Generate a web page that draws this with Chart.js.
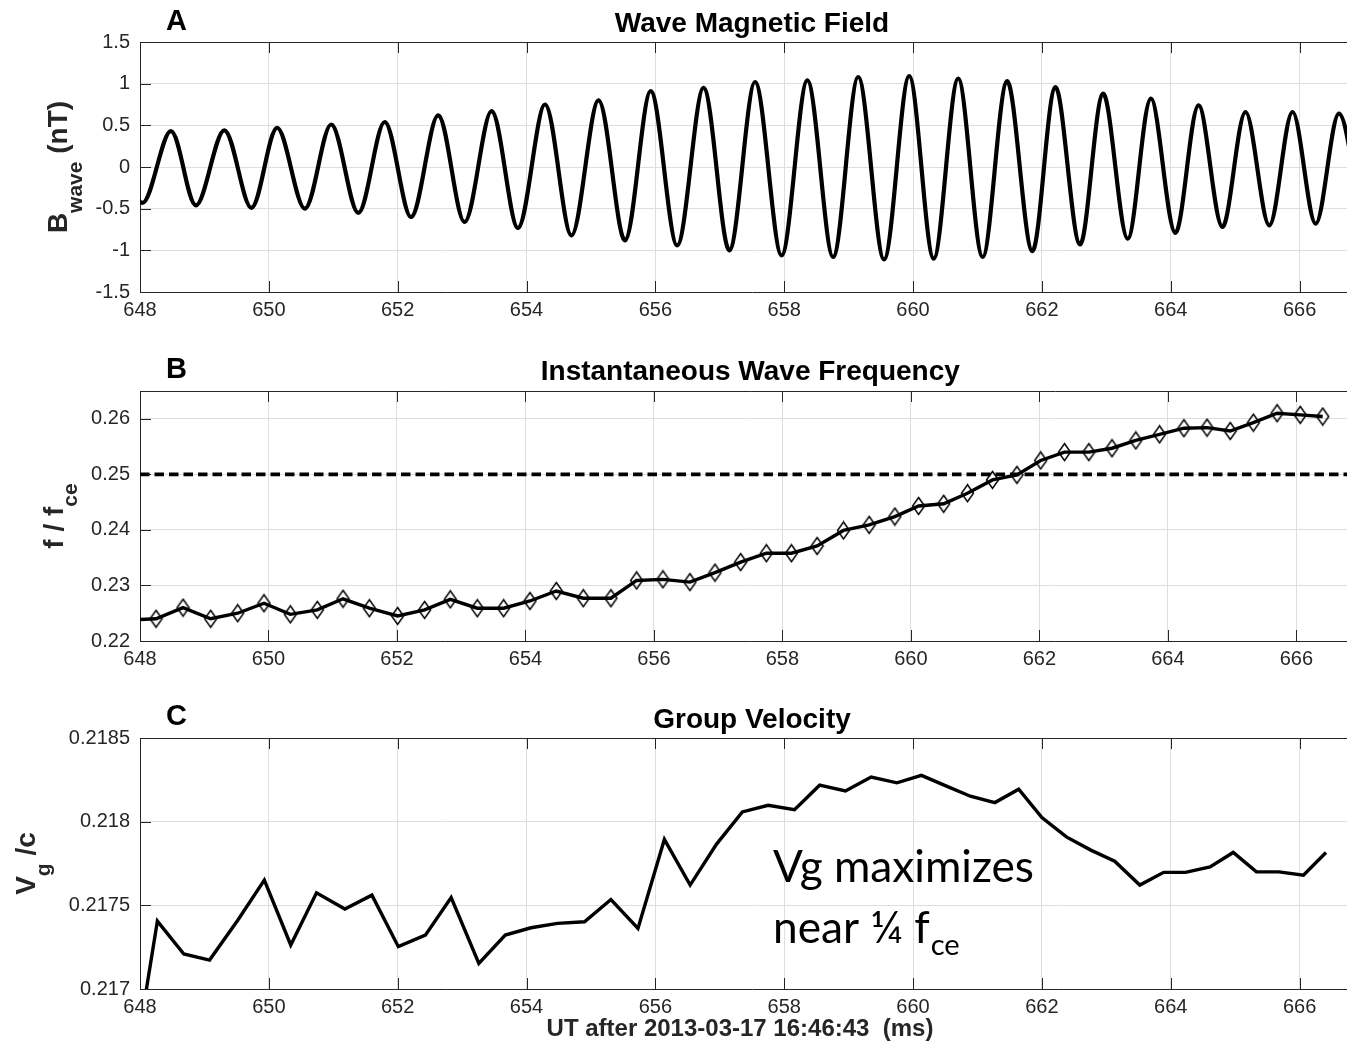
<!DOCTYPE html>
<html><head><meta charset="utf-8">
<script src="https://cdn.jsdelivr.net/npm/chart.js@4.4.1/dist/chart.umd.min.js"></script>
<style>
html,body{margin:0;padding:0;background:#fff;overflow:hidden;width:1347px;height:1048px;position:relative;}
.panel{position:absolute;left:0;width:1372px;}
</style></head><body>
<div class="panel" style="top:0;height:345px"><canvas id="ca"></canvas></div>
<div class="panel" style="top:345px;height:349px"><canvas id="cb"></canvas></div>
<div class="panel" style="top:694px;height:354px"><canvas id="cc"></canvas></div>
<script>
// ---------- DATA ----------
const xTicks = [648, 650, 652, 654, 656, 658, 660, 662, 664, 666];
const xTickLabels = ['648','650','652','654','656','658','660','662','664','666'];

// Panel A: wave magnetic field, read peaks and troughs (ms, nT)
const waveT = [647.62, 648.04, 648.48, 648.87, 649.31, 649.73, 650.13, 650.56, 650.97, 651.39, 651.80,
  652.21, 652.63, 653.04, 653.46, 653.87, 654.29, 654.70, 655.12, 655.53, 655.93, 656.34, 656.75,
  657.15, 657.55, 657.96, 658.36, 658.76, 659.15, 659.55, 659.94, 660.32, 660.70, 661.08, 661.46,
  661.85, 662.21, 662.59, 662.95, 663.33, 663.69, 664.07, 664.43, 664.80, 665.16, 665.53, 665.89,
  666.25, 666.61, 666.97];
const waveB = [0.42, -0.43, 0.43, -0.46, 0.44, -0.49, 0.47, -0.50, 0.51, -0.55, 0.54,
  -0.60, 0.62, -0.66, 0.67, -0.73, 0.75, -0.82, 0.80, -0.88, 0.91, -0.94, 0.95,
  -1.00, 1.02, -1.06, 1.04, -1.08, 1.08, -1.11, 1.09, -1.10, 1.06, -1.08, 1.03,
  -1.01, 0.96, -0.93, 0.88, -0.86, 0.82, -0.79, 0.74, -0.72, 0.66, -0.70, 0.66,
  -0.68, 0.64, -0.66];
const aYTicks = [-1.5, -1, -0.5, 0, 0.5, 1, 1.5];
const aYLabels = ['-1.5', '-1', '-0.5', '0', '0.5', '1', '1.5'];

// Panel B: instantaneous wave frequency (f / fce)
const freqT = [647.84, 648.25, 648.67, 649.10, 649.52, 649.93, 650.34, 650.76, 651.16, 651.57,
  652.01, 652.43, 652.83, 653.25, 653.66, 654.07, 654.48, 654.90, 655.33, 655.73,
  656.14, 656.56, 656.95, 657.35, 657.75, 658.14, 658.54, 658.95, 659.35, 659.75,
  660.12, 660.51, 660.88, 661.27, 661.65, 662.02, 662.39, 662.77, 663.13, 663.50,
  663.87, 664.25, 664.61, 664.97, 665.33, 665.70, 666.06, 666.41];
const freqV = [0.2238, 0.2240, 0.2260, 0.2240, 0.2250, 0.2268, 0.2248, 0.2256, 0.2276, 0.2259,
  0.2245, 0.2256, 0.2275, 0.2259, 0.2259, 0.2272, 0.2290, 0.2277, 0.2277, 0.2309,
  0.2311, 0.2306, 0.2323, 0.2342, 0.2358, 0.2358, 0.2371, 0.2399, 0.2409, 0.2424,
  0.2443, 0.2447, 0.2466, 0.2490, 0.2499, 0.2525, 0.2540, 0.2540, 0.2547, 0.2561,
  0.2572, 0.2583, 0.2584, 0.2578, 0.2593, 0.2610, 0.2607, 0.2604];
const quarterT = [648, 667];
const quarterV = [0.25, 0.25];
const bYTicks = [0.22, 0.23, 0.24, 0.25, 0.26];
const bYLabels = ['0.22', '0.23', '0.24', '0.25', '0.26'];

// Panel C: group velocity (Vg / c)
const velT = [647.84, 648.27, 648.68, 649.08, 649.52, 649.93, 650.34, 650.74, 651.18, 651.60,
  652.01, 652.43, 652.83, 653.26, 653.67, 654.07, 654.48, 654.90, 655.31, 655.73,
  656.14, 656.54, 656.95, 657.35, 657.75, 658.16, 658.55, 658.95, 659.35, 659.75,
  660.13, 660.51, 660.89, 661.27, 661.64, 662.00, 662.38, 662.76, 663.13, 663.52,
  663.89, 664.23, 664.61, 664.97, 665.33, 665.68, 666.06, 666.41];
const velV = [0.21638, 0.217406, 0.217209, 0.217173, 0.217412, 0.217651, 0.217263, 0.217575, 0.217478, 0.217561,
  0.217253, 0.217322, 0.217547, 0.217153, 0.217322, 0.217366, 0.217392, 0.217402, 0.217535, 0.217362,
  0.217894, 0.217621, 0.217866, 0.218058, 0.218098, 0.218072, 0.218218, 0.218184, 0.218267, 0.218232,
  0.218277, 0.218214, 0.218152, 0.218114, 0.218194, 0.218025, 0.217909, 0.217830, 0.217764, 0.217621,
  0.217697, 0.217697, 0.217730, 0.217816, 0.217700, 0.217700, 0.217680, 0.217816];
const cYTicks = [0.217, 0.2175, 0.218, 0.2185];
const cYLabels = ['0.217', '0.2175', '0.218', '0.2185'];

// ---------- STYLE / DRAWING ----------
const FONT = "'Liberation Sans', Arial, Helvetica, sans-serif";
const AX = '#262626';
const GRID = '#dedede';
Chart.defaults.font.family = FONT;
Chart.defaults.color = AX;

function pts(xs, ys) { return xs.map((x, i) => ({ x: x, y: ys[i] })); }

function diamondImg() {
  const c = document.createElement('canvas');
  c.width = 15; c.height = 20;
  const g = c.getContext('2d');
  g.strokeStyle = '#000'; g.lineWidth = 1.5;
  g.beginPath(); g.moveTo(7.5, 1.5); g.lineTo(13.5, 10); g.lineTo(7.5, 18.5); g.lineTo(1.5, 10); g.closePath();
  g.stroke();
  return c;
}

function rotLabel(ctx, parts, xBase, yCenter) {
  ctx.save();
  let total = 0;
  parts.forEach(p => { ctx.font = 'bold ' + p.size + 'px ' + FONT; p.w = ctx.measureText(p.text).width; total += p.w; });
  ctx.translate(xBase, yCenter);
  ctx.rotate(-Math.PI / 2);
  ctx.fillStyle = AX;
  ctx.textBaseline = 'alphabetic';
  ctx.textAlign = 'left';
  let u = -total / 2;
  parts.forEach(p => {
    ctx.font = 'bold ' + p.size + 'px ' + FONT;
    ctx.fillText(p.text, u, p.sub ? p.sub : 0);
    u += p.w;
  });
  ctx.restore();
}

function decoPlugin(cfg) {
  return {
    id: 'deco',
    beforeDatasetsDraw(chart) {
      const ctx = chart.ctx, a = chart.chartArea;
      const xs = chart.scales.x, ys = chart.scales.y;
      ctx.save();
      ctx.strokeStyle = AX; ctx.lineWidth = 1;
      ctx.beginPath();
      ctx.moveTo(a.left, a.top + 0.5); ctx.lineTo(a.right, a.top + 0.5);
      xTicks.forEach(v => {
        const x = Math.round(xs.getPixelForValue(v)) + 0.5;
        ctx.moveTo(x, a.bottom); ctx.lineTo(x, a.bottom - 11);
        ctx.moveTo(x, a.top); ctx.lineTo(x, a.top + 11);
      });
      cfg.yTicks.forEach(v => {
        const y = Math.round(ys.getPixelForValue(v)) + 0.5;
        ctx.moveTo(a.left, y); ctx.lineTo(a.left + 11, y);
      });
      ctx.stroke();
      ctx.restore();
    },
    afterDraw(chart) {
      const ctx = chart.ctx, a = chart.chartArea;
      ctx.save();
      ctx.fillStyle = '#000';
      ctx.textBaseline = 'alphabetic';
      ctx.font = 'bold 29px ' + FONT;
      ctx.textAlign = 'left';
      ctx.fillText(cfg.letter, 166, cfg.letterY);
      ctx.font = 'bold 28px ' + FONT;
      ctx.textAlign = 'center';
      ctx.fillText(cfg.title, (a.left + a.right) / 2, cfg.titleY);
      ctx.restore();
      rotLabel(ctx, cfg.ylabel, cfg.ylabelX, (a.top + a.bottom) / 2);
      if (cfg.extra) cfg.extra(chart);
    }
  };
}

function makeChart(id, cfg) {
  return new Chart(document.getElementById(id), {
    type: 'line',
    data: { datasets: cfg.datasets },
    options: {
      responsive: true, maintainAspectRatio: false, animation: false, devicePixelRatio: 1,
      layout: { padding: { left: 0, top: cfg.padTop, right: 8, bottom: 0 } },
      plugins: { legend: { display: false }, tooltip: { enabled: false }, title: { display: false } },
      scales: {
        x: {
          type: 'linear', min: 648, max: 667,
          afterBuildTicks: s => { s.ticks = xTicks.map(v => ({ value: v })); },
          afterFit: s => { s.height = cfg.xAxisH; },
          grid: { color: GRID, drawTicks: false, lineWidth: 1 },
          border: { display: true, color: AX, width: 1 },
          ticks: { padding: 6, font: { size: 20 }, color: AX, maxRotation: 0, autoSkip: false,
                   callback: (v, i) => xTickLabels[i] }
        },
        y: {
          type: 'linear', min: cfg.yMin, max: cfg.yMax,
          afterBuildTicks: s => { s.ticks = cfg.yTicks.map(v => ({ value: v })); },
          afterFit: s => { s.width = 140; },
          grid: { color: GRID, drawTicks: false, lineWidth: 1 },
          border: { display: true, color: AX, width: 1 },
          ticks: { padding: 10, font: { size: 20 }, color: AX, autoSkip: false,
                   callback: (v, i) => cfg.yLabels[i] }
        }
      }
    },
    plugins: [decoPlugin(cfg)]
  });
}

// Panel A
makeChart('ca', {
  padTop: 42, xAxisH: 53, yMin: -1.5, yMax: 1.5, yTicks: aYTicks, yLabels: aYLabels,
  letter: 'A', letterY: 30, title: 'Wave Magnetic Field', titleY: 32, ylabelX: 67,
  ylabel: [{ text: 'B', size: 28 }, { text: 'wave', size: 21, sub: 15 }, { text: ' (nT)', size: 28 }],
  datasets: [{
    data: pts(waveT, waveB), borderColor: '#000', borderWidth: 4.2, pointRadius: 0,
    tension: 0.33, clip: 0, fill: false
  }]
});

// Panel B
const dia = diamondImg();
makeChart('cb', {
  padTop: 46, xAxisH: 53, yMin: 0.22, yMax: 0.265, yTicks: bYTicks, yLabels: bYLabels,
  letter: 'B', letterY: 33, title: 'Instantaneous Wave Frequency', titleY: 35, ylabelX: 63,
  ylabel: [{ text: 'f / f', size: 28 }, { text: 'ce', size: 21, sub: 14 }],
  datasets: [
    { data: pts(quarterT, quarterV), borderColor: '#000', borderWidth: 3.6, borderDash: [9.5, 5],
      pointRadius: 0, tension: 0, clip: 0, fill: false },
    { data: pts(freqT, freqV), borderColor: '#000', borderWidth: 3.4, tension: 0, clip: 0, fill: false,
      pointStyle: dia, pointRadius: 8 }
  ]
});

// Panel C
makeChart('cc', {
  padTop: 44, xAxisH: 59, yMin: 0.217, yMax: 0.2185, yTicks: cYTicks, yLabels: cYLabels,
  letter: 'C', letterY: 31, title: 'Group Velocity', titleY: 34, ylabelX: 35,
  ylabel: [{ text: 'V', size: 28 }, { text: 'g', size: 21, sub: 15 }, { text: ' /c', size: 28 }],
  datasets: [{
    data: pts(velT, velV), borderColor: '#000', borderWidth: 3.4, pointRadius: 0,
    tension: 0, clip: 0, fill: false
  }],
  extra(chart) {
    const ctx = chart.ctx;
    ctx.save();
    ctx.fillStyle = AX;
    ctx.font = 'bold 24px ' + FONT;
    ctx.textAlign = 'center';
    ctx.textBaseline = 'alphabetic';
    ctx.fillText('UT after 2013-03-17 16:46:43  (ms)', 740, 1036 - 694);
    // annotation
    ctx.fillStyle = '#000';
    ctx.textAlign = 'left';
    ctx.font = '40px Lato';
    const w0 = ctx.measureText('Vg maximizes').width;
    const size = 40 * 261 / w0;
    ctx.font = size + 'px Lato';
    ctx.fillText('Vg maximizes', 773, 882 - 694);
    ctx.fillText('near \u00BC f', 773, 943 - 694);
    const w1 = ctx.measureText('near \u00BC f').width;
    ctx.font = (size * 0.66) + 'px Lato';
    ctx.fillText('ce', 773 + w1 + 1, 955 - 694);
    ctx.restore();
  }
});
</script>
</body></html>
